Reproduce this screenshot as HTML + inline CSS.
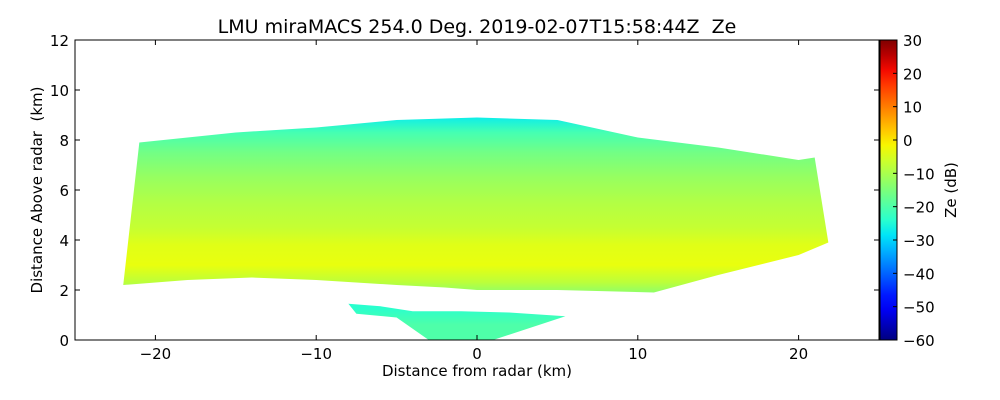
<!DOCTYPE html>
<html><head><meta charset="utf-8">
<style>
html,body{margin:0;padding:0;background:#fff;}
svg{display:block;font-family:"DejaVu Sans","Liberation Sans",sans-serif;}
</style></head>
<body>
<svg id="chart" width="1000" height="400" viewBox="0 0 1000 400" xmlns="http://www.w3.org/2000/svg">
<defs id="defs"></defs>
<rect x="0" y="0" width="1000" height="400" fill="#fff"/>
<text x="477" y="33" font-size="19" text-anchor="middle" xml:space="preserve">LMU miraMACS 254.0 Deg. 2019-02-07T15:58:44Z  Ze</text>
<g id="plot"></g>
<g id="axes"></g>
<text x="477" y="376" font-size="15" text-anchor="middle">Distance from radar (km)</text>
<text x="0" y="0" font-size="15" text-anchor="middle" transform="translate(42,190) rotate(-90)" xml:space="preserve">Distance Above radar  (km)</text>
<text x="0" y="0" font-size="15" text-anchor="middle" transform="translate(956,190) rotate(-90)">Ze (dB)</text>
</svg>
<script>
// Cloud boundaries (km)
const topX = [-21, -18, -15, -10, -5, 0, 5, 10, 15, 20, 21];
const topH = [7.9, 8.1, 8.3, 8.5, 8.8, 8.9, 8.8, 8.1, 7.7, 7.2, 7.3];
const botX = [-22, -18, -14, -10, -5, -2, 0, 5, 11, 15, 20, 21.85];
const botH = [2.2, 2.4, 2.5, 2.4, 2.2, 2.1, 2.0, 2.0, 1.9, 2.6, 3.4, 3.9];
// Lower (near-radar) echo outline
const lowX = [-8, -6, -4, -1, 2, 5.5, 1, -3, -5, -7.5];
const lowH = [1.45, 1.35, 1.15, 1.15, 1.1, 0.95, 0.0, 0.0, 0.9, 1.05];
// Reflectivity profile vs height
const profH = [1.8, 2.3, 3.0, 3.8, 4.5, 5.5, 6.5, 7.5, 8.3, 9.0];
const profZe = [-14, -8, -3, -4, -7, -9, -12, -16, -21, -28];
const lowZe = [-20, -20, -24];
const lowProfH = [0, 0.6, 1.3];
const cbTicks = [30, 20, 10, 0, -10, -20, -30, -40, -50, -60];
const xTicks = [-20, -10, 0, 10, 20];
const yTicks = [0, 2, 4, 6, 8, 10, 12];

const X0=75, X1=879, Y0=340, Y1=40;
const xs = v => X0 + (v + 25) / 50 * (X1 - X0);
const ys = v => Y0 - v / 12 * (Y0 - Y1);
const NS = "http://www.w3.org/2000/svg";
function jet(t){
  t=Math.max(0,Math.min(1,t));
  const seg=(pts)=>{for(let i=1;i<pts.length;i++){if(t<=pts[i][0]){const a=pts[i-1],b=pts[i];return a[1]+(b[1]-a[1])*(t-a[0])/(b[0]-a[0]);}}return pts[pts.length-1][1];};
  const r=seg([[0,0],[0.35,0],[0.66,1],[0.89,1],[1,0.5]]);
  const g=seg([[0,0],[0.125,0],[0.375,1],[0.64,1],[0.91,0],[1,0]]);
  const b=seg([[0,0.5],[0.11,1],[0.34,1],[0.65,0],[1,0]]);
  return `rgb(${Math.round(r*255)},${Math.round(g*255)},${Math.round(b*255)})`;
}
const zc = z => jet((z + 60) / 90);
const defs=document.getElementById('defs');
function mkGrad(id, hs, zs){
  const g=document.createElementNS(NS,'linearGradient');
  g.setAttribute('id',id);g.setAttribute('gradientUnits','userSpaceOnUse');
  g.setAttribute('x1',0);g.setAttribute('x2',0);
  g.setAttribute('y1',ys(hs[0]));g.setAttribute('y2',ys(hs[hs.length-1]));
  const span=hs[hs.length-1]-hs[0];
  hs.forEach((h,i)=>{const s=document.createElementNS(NS,'stop');
    s.setAttribute('offset',(h-hs[0])/span);s.setAttribute('stop-color',zc(zs[i]));g.appendChild(s);});
  defs.appendChild(g);
}
mkGrad('cloudGrad',profH,profZe);
mkGrad('lowGrad',lowProfH,lowZe);
const cb=document.createElementNS(NS,'linearGradient');
cb.setAttribute('id','cbGrad');cb.setAttribute('x1',0);cb.setAttribute('x2',0);cb.setAttribute('y1',1);cb.setAttribute('y2',0);
for(let i=0;i<=20;i++){const s=document.createElementNS(NS,'stop');s.setAttribute('offset',i/20);s.setAttribute('stop-color',jet(i/20));cb.appendChild(s);}
defs.appendChild(cb);

const plot=document.getElementById('plot');
let pts=[];
for(let i=0;i<topX.length;i++)pts.push(xs(topX[i])+','+ys(topH[i]));
for(let i=botX.length-1;i>=0;i--)pts.push(xs(botX[i])+','+ys(botH[i]));
const cloud=document.createElementNS(NS,'polygon');


cloud.setAttribute('points',pts.join(' '));cloud.setAttribute('fill','url(#cloudGrad)');
plot.appendChild(cloud);
const low=document.createElementNS(NS,'polygon');


low.setAttribute('points',lowX.map((x,i)=>xs(x)+','+ys(lowH[i])).join(' '));low.setAttribute('fill','url(#lowGrad)');
plot.appendChild(low);

const ax=document.getElementById('axes');
function el(tag,attrs,txt){const e=document.createElementNS(NS,tag);for(const k in attrs)e.setAttribute(k,attrs[k]);if(txt!==undefined)e.textContent=txt;ax.appendChild(e);return e;}
const frame=el('rect',{x:X0,y:Y1,width:X1-X0,height:Y0-Y1,fill:'none',stroke:'#000','stroke-width':1});


xTicks.forEach(v=>{const x=xs(v);
  el('line',{x1:x,x2:x,y1:Y0,y2:Y0-5,stroke:'#000'});el('line',{x1:x,x2:x,y1:Y1,y2:Y1+5,stroke:'#000'});
  const t=el('text',{x:x,y:Y0+19,'font-size':15,'text-anchor':'middle'},(v<0?'\u2212':'')+Math.abs(v));
  
  });
yTicks.forEach(v=>{const y=ys(v);
  el('line',{x1:X0,x2:X0+5,y1:y,y2:y,stroke:'#000'});el('line',{x1:X1,x2:X1-5,y1:y,y2:y,stroke:'#000'});
  const t=el('text',{x:X0-6,y:y+6,'font-size':15,'text-anchor':'end'},String(v));
  
  });
const CX0=880,CX1=897;
const bar=el('rect',{x:CX0,y:Y1,width:CX1-CX0,height:Y0-Y1,fill:'url(#cbGrad)',stroke:'#000'});


cbTicks.forEach(v=>{const y=Y0-(v+60)/90*(Y0-Y1);
  el('line',{x1:CX1,x2:CX1-4,y1:y,y2:y,stroke:'#000'});
  const t=el('text',{x:CX1+6,y:y+6,'font-size':15},(v<0?'\u2212':'')+Math.abs(v));
  
  });
</script>
</body></html>
